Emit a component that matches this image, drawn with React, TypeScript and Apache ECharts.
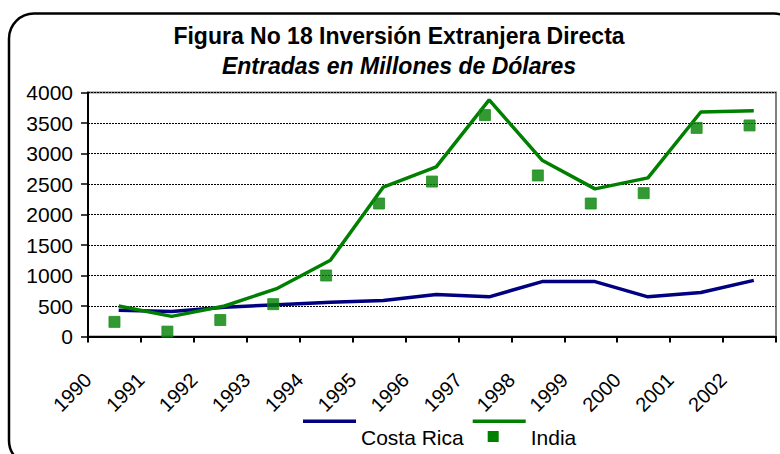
import React, { useEffect, useRef } from "react";
import * as echarts from "echarts";

const years = ["1990", "1991", "1992", "1993", "1994", "1995", "1996", "1997", "1998", "1999", "2000", "2001", "2002"];
const costaRica = [430, 410, 480, 520, 560, 590, 690, 650, 900, 900, 650, 720, 920];
const indiaLine = [500, 330, 500, 790, 1250, 2450, 2780, 3880, 2890, 2420, 2600, 3680, 3700];
const indiaPoints = [240, 80, 270, 530, 1000, 2180, 2540, 3630, 2640, 2180, 2350, 3420, 3460];
const yMin = 0;
const yMax = 4000;
const yStep = 500;

const titleText = "Figura No 18 Inversión Extranjera Directa";
const subtitleText = "Entradas en Millones de Dólares";

const FONT = "'Liberation Sans', Arial, sans-serif";

export default function App() {
  const ref = useRef<HTMLDivElement>(null);
  useEffect(() => {
    if (!ref.current) return;
    const chart = echarts.init(ref.current, null, { renderer: "svg" });
    const lineShift = 0.58;
    const pointShift = 0.5;
    chart.setOption({
      animation: false,
      backgroundColor: "#ffffff",
      textStyle: { fontFamily: FONT, color: "#000" },
      title: [
        {
          text: titleText,
          left: 399,
          top: 24,
          textAlign: "center",
          padding: 0,
          textStyle: { fontFamily: FONT, fontSize: 23, fontWeight: "bold", color: "#000" },
        },
        {
          text: subtitleText,
          left: 399,
          top: 54,
          textAlign: "center",
          padding: 0,
          textStyle: { fontFamily: FONT, fontSize: 23, fontWeight: "bold", fontStyle: "italic", color: "#000" },
        },
      ],
      graphic: [
        {
          type: "rect",
          shape: { x: 9, y: 13.5, width: 790, height: 452, r: 25 },
          style: { fill: "none", stroke: "#000", lineWidth: 2.5 },
          silent: true,
          z: 100,
        },
      ],
      legend: {
        left: 303,
        top: 419.5,
        itemGap: 9,
        itemWidth: 53,
        itemHeight: 35,
        padding: 0,
        selectedMode: false,
        itemStyle: { borderWidth: 0 },
        textStyle: { fontFamily: FONT, fontSize: 21, color: "#000" },
        data: [
          { name: "Costa Rica", icon: "path://M0,0H53V3.5H0Z M0,34.99H0.01V35H0Z" },
          { name: "India", icon: "path://M0,0H53V3.5H0Z M15,11.5H26V22.5H15Z M0,34.99H0.01V35H0Z" },
        ],
      },
      grid: {
        left: 88,
        right: 4,
        top: 92.5,
        bottom: 117.5,
        show: true,
        borderColor: "#808080",
        borderWidth: 2,
        backgroundColor: "#fff",
      },
      xAxis: {
        type: "value",
        min: 0,
        max: years.length,
        interval: 1,
        axisLine: { show: true, onZero: false, lineStyle: { color: "#000", width: 2 } },
        axisTick: { show: true, length: 6, lineStyle: { color: "#000", width: 2 } },
        splitLine: { show: false },
        axisLabel: {
          rotate: 45,
          margin: 40,
          fontSize: 20,
          fontFamily: FONT,
          color: "#000",
          showMaxLabel: true,
          showMinLabel: true,
          formatter: (v: number) => (years[Math.round(v)] !== undefined ? years[Math.round(v)] : ""),
        },
      },
      yAxis: {
        type: "value",
        min: yMin,
        max: yMax,
        interval: yStep,
        axisLine: { show: true, lineStyle: { color: "#000", width: 2 } },
        axisTick: { show: true, inside: false, length: 7, lineStyle: { color: "#000", width: 1.5 } },
        splitLine: { show: true, lineStyle: { color: "#000", width: 1, type: [2, 1] } },
        axisLabel: {
          fontSize: 21,
          fontFamily: FONT,
          color: "#000",
          margin: 15,
          formatter: (v: number) => String(v),
        },
      },
      series: [
        {
          name: "Costa Rica",
          type: "line",
          data: costaRica.map((v, i) => [i + lineShift, v]),
          showSymbol: false,
          symbol: "none",
          color: "#000080",
          lineStyle: { color: "#000080", width: 3.5 },
          z: 3,
        },
        {
          name: "India",
          type: "line",
          data: indiaLine.map((v, i) => [i + lineShift, v]),
          showSymbol: false,
          symbol: "none",
          color: "#008000",
          lineStyle: { color: "#008000", width: 3.5 },
          z: 4,
        },
        {
          name: "India",
          type: "scatter",
          data: indiaPoints.map((v, i) => [i + pointShift, v]),
          symbol: "rect",
          symbolSize: 11,
          itemStyle: { color: "#008000", borderColor: "#1f8f1f", borderWidth: 1 },
          z: 5,
        },
      ],
    });
    return () => chart.dispose();
  }, []);
  return (
    <div
      ref={ref}
      style={{ position: "absolute", left: 0, top: 0, width: 780, height: 454, background: "#fff" }}
    />
  );
}
